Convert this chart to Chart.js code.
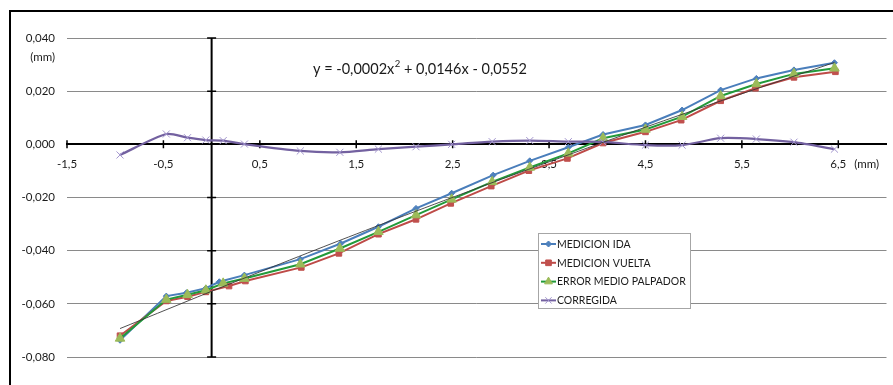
<!DOCTYPE html>
<html>
<head>
<meta charset="utf-8">
<title>Error palpador</title>
<script src="https://cdn.jsdelivr.net/npm/chart.js@4.4.1/dist/chart.umd.min.js"></script>
<style>
    html, body { margin: 0; padding: 0; background: #fff; }
    #wrap { position: relative; width: 893px; height: 385px; }
</style>
</head>
<body>
<div id="wrap"><canvas id="errorChart" width="893" height="385"></canvas></div>
<script>
// tick values of both axes
const xTicks = [-1.5, -0.5, 0.5, 1.5, 2.5, 3.5, 4.5, 5.5, 6.5];
const yTicks = [-0.08, -0.06, -0.04, -0.02, 0, 0.02, 0.04];

// positions (mm)
const xPos = [-0.95, -0.47, -0.25, -0.06, 0.12, 0.34, 0.92, 1.33, 1.73, 2.12, 2.49, 2.91, 3.30, 3.70, 4.06, 4.50, 4.88, 5.28, 5.65, 6.04, 6.46];
const xIda = [-0.95, -0.47, -0.26, -0.06, 0.08, 0.34, 0.92, 1.34, 1.73, 2.12, 2.49, 2.92, 3.30, 3.70, 4.06, 4.50, 4.88, 5.28, 5.65, 6.04, 6.46];
const xVuelta = [-0.95, -0.47, -0.25, -0.06, 0.18, 0.35, 0.93, 1.32, 1.73, 2.12, 2.48, 2.90, 3.29, 3.69, 4.06, 4.50, 4.87, 5.28, 5.64, 6.04, 6.47];

// errors (mm)
const medicionIda = [-0.0737, -0.0571, -0.0558, -0.0541, -0.0517, -0.0492, -0.0432, -0.0373, -0.0310, -0.0241, -0.0184, -0.0116, -0.0062, -0.0011, 0.0037, 0.0073, 0.0129, 0.0204, 0.0248, 0.0280, 0.0307];
const medicionVuelta = [-0.0720, -0.0589, -0.0573, -0.0555, -0.0533, -0.0514, -0.0463, -0.0410, -0.0338, -0.0282, -0.0222, -0.0157, -0.0099, -0.0053, 0.0005, 0.0047, 0.0091, 0.0164, 0.0211, 0.0252, 0.0273];
const errorMedio = [-0.0730, -0.0584, -0.0566, -0.0549, -0.0523, -0.0505, -0.0451, -0.0392, -0.0329, -0.0266, -0.0207, -0.0141, -0.0087, -0.0034, 0.0023, 0.0056, 0.0104, 0.0182, 0.0227, 0.0265, 0.0286];
const corregida = [-0.0040, 0.0039, 0.0025, 0.0016, 0.0014, 0.0001, -0.0025, -0.0030, -0.0018, -0.0009, 0.0000, 0.0010, 0.0014, 0.0010, 0.0009, -0.0003, -0.0003, 0.0023, 0.0020, 0.0008, -0.0018];

// polynomial trend line of ERROR MEDIO
const trendX = [-0.95, 0.5, 2.0, 3.5, 5.0, 6.46];
const trendY = [-0.0693, -0.0480, -0.0268, -0.0066, 0.0128, 0.0308];
const trendLabel = ['y = -0,0002x', '2', ' + 0,0146x - 0,0552'];

const FONT = 'Lato, "Open Sans", sans-serif';
const TEXT = '#1a1a1a';

const toPoints = (xs, ys) => ys.map((y, i) => ({ x: xs[i], y }));
const comma = (v, d) => v.toFixed(d).replace('.', ',');

const datasets = [
    {
        label: 'MEDICION IDA',
        data: toPoints(xIda, medicionIda),
        borderColor: '#4A7EBB',
        pointBackgroundColor: '#4F81BD',
        pointBorderColor: '#4A7EBB',
        pointStyle: 'rectRot',
        pointRadius: 3,
        order: 5
    },
    {
        label: 'MEDICION VUELTA',
        data: toPoints(xVuelta, medicionVuelta),
        borderColor: '#BE4B48',
        pointBackgroundColor: '#C0504D',
        pointBorderColor: '#C0504D',
        pointStyle: 'rect',
        pointRadius: 4,
        order: 4
    },
    {
        label: 'ERROR MEDIO PALPADOR',
        data: toPoints(xPos, errorMedio),
        borderColor: '#229A3A',
        pointBackgroundColor: '#9BBB59',
        pointBorderColor: '#9BBB59',
        pointStyle: 'triangle',
        pointRadius: 5.5,
        order: 3
    },
    {
        label: 'CORREGIDA',
        data: toPoints(xPos, corregida),
        borderColor: '#7361A0',
        pointBackgroundColor: '#A497CF',
        pointBorderColor: '#A497CF',
        pointStyle: 'crossRot',
        pointRadius: 5,
        pointBorderWidth: 1,
        borderWidth: 2.25,
        tension: 0.25,
        order: 2
    },
    {
        label: 'trend',
        data: toPoints(trendX, trendY),
        borderColor: 'rgba(50,50,50,0.85)',
        borderWidth: 1,
        pointRadius: 0,
        tension: 0.4,
        order: 1,
        inLegend: false
    }
].map(d => Object.assign({ showLine: true, borderWidth: 2, tension: 0, pointBorderWidth: 1 }, d));

// outer frame of the chart object
const framePlugin = {
    id: 'frame',
    beforeDraw(chart) {
        const c = chart.ctx;
        c.save();
        c.fillStyle = '#fff';
        c.fillRect(0, 0, chart.width, chart.height);
        c.strokeStyle = '#000';
        c.lineWidth = 2;
        c.strokeRect(10, 11, chart.width + 20, chart.height + 20);
        c.restore();
    }
};

// vertical axis through x = 0 and crossing tick marks
const axisCross = {
    id: 'axisCross',
    beforeDatasetsDraw(chart) {
        const { ctx: c, chartArea: a, scales: { x, y } } = chart;
        const x0 = x.getPixelForValue(0);
        const y0 = y.getPixelForValue(0);
        c.save();
        c.strokeStyle = '#000';
        c.lineWidth = 2;
        c.beginPath();
        c.moveTo(x0, a.top);
        c.lineTo(x0, a.bottom);
        c.stroke();
        c.lineWidth = 1.5;
        c.beginPath();
        yTicks.forEach(v => {
            const py = y.getPixelForValue(v);
            c.moveTo(x0 - 4.5, py);
            c.lineTo(x0 + 4.5, py);
        });
        xTicks.forEach(v => {
            const px = x.getPixelForValue(v);
            c.moveTo(px, y0 - 4);
            c.lineTo(px, y0 + 4);
        });
        c.stroke();
        c.restore();
    }
};

// equation, units and the boxed legend
const annotations = {
    id: 'annotations',
    afterDraw(chart) {
        const c = chart.ctx;
        const { x, y } = chart.scales;
        c.save();
        c.fillStyle = TEXT;
        c.textBaseline = 'middle';

        c.font = '11.5px ' + FONT;
        c.textAlign = 'right';
        c.fillText('(mm)', 55, 57);
        c.textAlign = 'left';
        c.fillText('(mm)', x.getPixelForValue(6.5) + 16, y.getPixelForValue(0) + 20);

        c.font = '14.5px ' + FONT;
        let px = 313;
        c.fillText(trendLabel[0], px, 69);
        px += c.measureText(trendLabel[0]).width + 0.5;
        c.font = '9.5px ' + FONT;
        c.fillText(trendLabel[1], px, 64);
        px += c.measureText(trendLabel[1]).width;
        c.font = '14.5px ' + FONT;
        c.fillText(trendLabel[2], px, 69);

        // legend box
        const bx = 538.5, by = 233.5, bw = 152, bh = 75;
        c.fillStyle = '#fff';
        c.fillRect(bx, by, bw, bh);
        c.strokeStyle = '#a6a6a6';
        c.lineWidth = 1;
        c.strokeRect(bx, by, bw, bh);

        const items = chart.data.datasets.filter(d => d.inLegend !== false);
        items.forEach((d, i) => {
            const ly = 244 + i * 18.8;
            c.strokeStyle = d.borderColor;
            c.lineWidth = 2;
            c.beginPath();
            c.moveTo(541, ly);
            c.lineTo(556, ly);
            c.stroke();
            c.fillStyle = d.pointBackgroundColor;
            c.strokeStyle = d.pointBorderColor;
            c.lineWidth = 1;
            Chart.helpers.drawPoint(c, {
                pointStyle: d.pointStyle,
                radius: Math.min(d.pointRadius, 4.5),
                rotation: 0,
                borderWidth: 1
            }, 548.5, ly);
            c.fillStyle = TEXT;
            c.font = '10.5px ' + FONT;
            c.textAlign = 'left';
            c.fillText(d.label, 557, ly + 0.5);
        });
        c.restore();
    }
};

new Chart(document.getElementById('errorChart'), {
    type: 'scatter',
    data: { datasets },
    options: {
        responsive: false,
        animation: false,
        devicePixelRatio: 1,
        layout: { padding: { left: 0, top: 38, right: 6, bottom: 28 } },
        plugins: {
            legend: { display: false },
            tooltip: { enabled: false }
        },
        scales: {
            x: {
                type: 'linear',
                min: -1.5,
                max: 7,
                position: { y: 0 },
                afterBuildTicks: s => { s.ticks = xTicks.map(v => ({ value: v })); },
                afterFit: s => { s.height = 0; },
                border: { display: true, color: '#000', width: 2 },
                grid: { drawOnChartArea: false, drawTicks: false },
                ticks: {
                    padding: 13,
                    autoSkip: false,
                    maxRotation: 0,
                    color: TEXT,
                    font: { family: FONT, size: 11.5 },
                    callback: v => comma(v, 1)
                }
            },
            y: {
                type: 'linear',
                min: -0.08,
                max: 0.04,
                position: 'left',
                afterBuildTicks: s => { s.ticks = yTicks.map(v => ({ value: v })); },
                afterFit: s => { s.width = 67; },
                border: { display: false },
                grid: {
                    drawTicks: false,
                    lineWidth: 1,
                    color: ctx => (ctx.tick && Math.abs(ctx.tick.value) < 1e-9) ? 'rgba(0,0,0,0)' : '#8a8a8a'
                },
                ticks: {
                    padding: 12,
                    color: TEXT,
                    font: { family: FONT, size: 11.5 },
                    callback: v => comma(v, 3)
                }
            }
        }
    },
    plugins: [framePlugin, axisCross, annotations]
});
</script>
</body>
</html>
